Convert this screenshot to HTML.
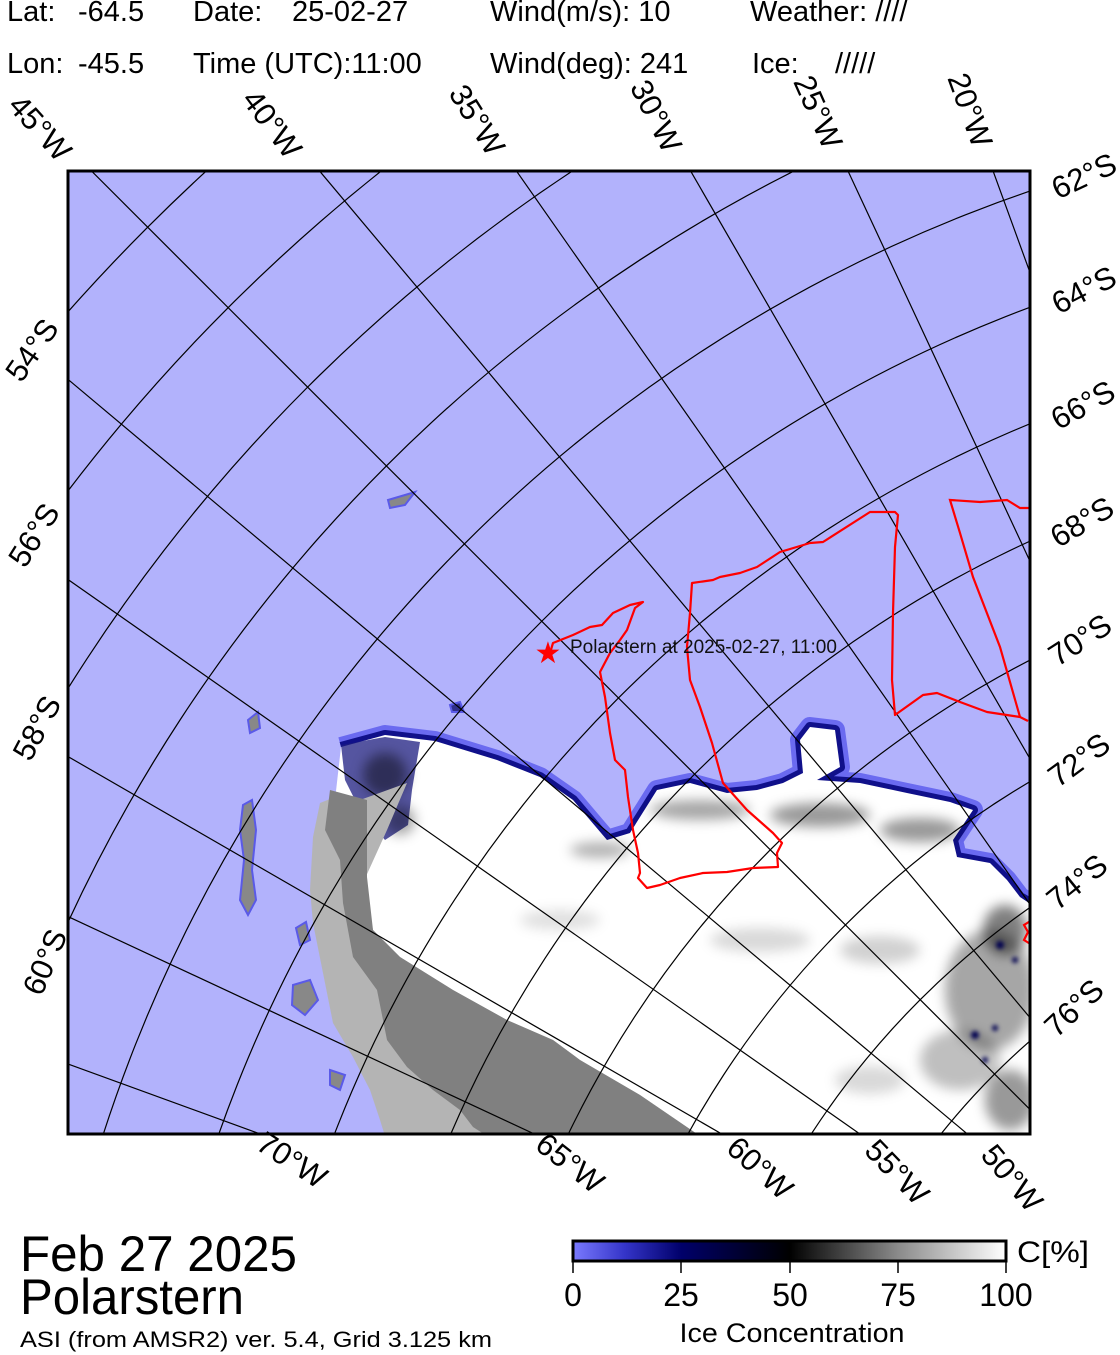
<!DOCTYPE html>
<html><head><meta charset="utf-8"><style>
html,body{margin:0;padding:0;background:#fff;overflow:hidden;width:1120px;height:1355px;}
svg{display:block;}
text{font-family:"Liberation Sans",Arial,sans-serif;fill:#000;}
</style></head><body>
<svg width="1120" height="1355" viewBox="0 0 1120 1355" xmlns="http://www.w3.org/2000/svg">
<defs>
<clipPath id="mc"><rect x="68" y="171" width="962" height="963"/></clipPath>
<filter id="bl" x="-20%" y="-20%" width="140%" height="140%"><feGaussianBlur stdDeviation="6"/></filter>
<filter id="bl2"><feGaussianBlur stdDeviation="2"/></filter>
<linearGradient id="cb" x1="0" x2="1" y1="0" y2="0">
<stop offset="0" stop-color="#7a7aff"/><stop offset="0.12" stop-color="#3434c8"/><stop offset="0.25" stop-color="#00006a"/><stop offset="0.5" stop-color="#000"/><stop offset="0.75" stop-color="#8a8a8a"/><stop offset="1" stop-color="#fff"/>
</linearGradient>
</defs>

<g font-size="29">
<text x="7" y="21">Lat:</text><text x="78" y="21">-64.5</text>
<text x="193" y="21">Date:</text><text x="292" y="21">25-02-27</text>
<text x="490" y="21">Wind(m/s): 10</text>
<text x="750" y="21">Weather: ////</text>
<text x="7" y="73">Lon:</text><text x="78" y="73">-45.5</text>
<text x="193" y="73">Time (UTC):11:00</text>
<text x="490" y="73">Wind(deg): 241</text>
<text x="752" y="73">Ice:</text><text x="835" y="73">/////</text>
</g>

<g clip-path="url(#mc)">
<rect x="68" y="171" width="962" height="963" fill="#b2b2fc"/>
<polyline fill="none" stroke="#6a6af0" stroke-width="20" stroke-linejoin="round" points="341,747 385,735 435,741 497,760 540,777 573,800 607,840 630,833 657,790 690,783 727,793 757,790 783,783 803,773 800,740 810,727 835,730 840,767 817,780 860,783 907,793 950,802 973,810 953,840 957,857 990,863 1007,880 1020,897 1034,905"/>
<polyline fill="none" stroke="#10108a" stroke-width="10" stroke-linejoin="round" points="341,747 385,735 435,741 497,760 540,777 573,800 607,840 630,833 657,790 690,783 727,793 757,790 783,783 803,773 800,740 810,727 835,730 840,767 817,780 860,783 907,793 950,802 973,810 953,840 957,857 990,863 1007,880 1020,897 1034,905"/>
<path d="M341,747 L385,735 L435,741 L497,760 L540,777 L573,800 L607,840 L630,833 L657,790 L690,783 L727,793 L757,790 L783,783 L803,773 L800,740 L810,727 L835,730 L840,767 L817,780 L860,783 L907,793 L950,802 L973,810 L953,840 L957,857 L990,863 L1007,880 L1020,897 L1032,905 L1032,1136 L620,1136 L500,1060 L420,1010 L360,950 L345,880 L335,800 Z" fill="#fff"/>
<!-- mottled dark patch near islands -->
<path d="M341,745 L385,737 L420,742 L412,790 L408,825 L385,840 L360,810 L345,780 Z" fill="#1c1c80" opacity="0.75"/>
<g filter="url(#bl)" fill="#000">
<ellipse cx="700" cy="810" rx="50" ry="10" opacity="0.35"/>
<ellipse cx="820" cy="815" rx="50" ry="12" opacity="0.4"/>
<ellipse cx="920" cy="830" rx="40" ry="12" opacity="0.4"/>
<ellipse cx="600" cy="850" rx="30" ry="8" opacity="0.3"/>
<ellipse cx="990" cy="990" rx="45" ry="60" opacity="0.35"/>
<ellipse cx="1005" cy="930" rx="22" ry="25" opacity="0.5"/>
<ellipse cx="960" cy="1060" rx="40" ry="30" opacity="0.25"/>
<ellipse cx="1010" cy="1100" rx="25" ry="30" opacity="0.4"/>
<ellipse cx="880" cy="950" rx="40" ry="14" opacity="0.18"/>
<ellipse cx="560" cy="920" rx="40" ry="10" opacity="0.12"/>
<ellipse cx="760" cy="940" rx="50" ry="12" opacity="0.15"/>
<ellipse cx="870" cy="1080" rx="35" ry="14" opacity="0.15"/>
<ellipse cx="385" cy="775" rx="22" ry="22" opacity="0.45"/>
<ellipse cx="400" cy="820" rx="15" ry="15" opacity="0.35"/>
</g>
<g fill="#000050" filter="url(#bl2)">
<circle cx="975" cy="1035" r="4"/><circle cx="995" cy="1028" r="3"/><circle cx="1000" cy="945" r="4"/><circle cx="1015" cy="960" r="3"/><circle cx="985" cy="1060" r="3"/>
</g>
<path d="M320,803 L313,837 L310,890 L313,923 L323,973 L333,1023 L353,1057 L370,1090 L380,1120 L385,1136 L700,1136 L640,1095 L580,1060 L553,1040 L507,1020 L453,990 L400,957 L373,930 L363,883 L387,830 L407,783 L360,800 L340,795 Z" fill="#b4b4b4"/>
<path d="M330,790 L367,800 L367,877 L373,930 L400,957 L453,990 L507,1020 L553,1040 L580,1060 L640,1095 L700,1136 L487,1136 L473,1127 L460,1110 L433,1090 L407,1067 L387,1040 L377,990 L353,957 L343,903 L340,860 L325,830 Z" fill="#808080"/>
<g fill="#888" stroke="#5a5ae8" stroke-width="2">
<path d="M243,805 L252,800 L256,830 L252,870 L256,900 L248,915 L240,900 L244,860 L240,830 Z"/>
<path d="M293,985 L310,980 L318,1000 L305,1015 L292,1005 Z"/>
<path d="M248,720 L258,712 L260,728 L250,733 Z"/>
<path d="M388,500 L405,495 L415,492 L405,505 L390,508 Z"/>
<path d="M450,705 L460,702 L464,712 L452,712 Z" fill="#30308a"/>
<path d="M296,928 L306,922 L310,940 L300,945 Z"/>
<path d="M330,1070 L345,1075 L340,1090 L330,1085 Z"/>
</g>
<g fill="none" stroke="#000" stroke-width="1.2">
<circle cx="1509" cy="1588.5" r="2040.1"/>
<circle cx="1509" cy="1588.5" r="1925.2"/>
<circle cx="1509" cy="1588.5" r="1811.4"/>
<circle cx="1509" cy="1588.5" r="1699.0"/>
<circle cx="1509" cy="1588.5" r="1587.6"/>
<circle cx="1509" cy="1588.5" r="1477.3"/>
<circle cx="1509" cy="1588.5" r="1367.9"/>
<circle cx="1509" cy="1588.5" r="1259.4"/>
<circle cx="1509" cy="1588.5" r="1151.7"/>
<circle cx="1509" cy="1588.5" r="1044.7"/>
<circle cx="1509" cy="1588.5" r="938.4"/>
<circle cx="1509" cy="1588.5" r="832.7"/>
<circle cx="1509" cy="1588.5" r="727.5"/>
</g>
<g stroke="#000" stroke-width="1.2" transform="translate(1509,1588.5)">
<line x1="0" y1="0" x2="3000" y2="0" transform="rotate(255)"/>
<line x1="0" y1="0" x2="3000" y2="0" transform="rotate(250)"/>
<line x1="0" y1="0" x2="3000" y2="0" transform="rotate(245)"/>
<line x1="0" y1="0" x2="3000" y2="0" transform="rotate(240)"/>
<line x1="0" y1="0" x2="3000" y2="0" transform="rotate(235)"/>
<line x1="0" y1="0" x2="3000" y2="0" transform="rotate(230)"/>
<line x1="0" y1="0" x2="3000" y2="0" transform="rotate(225)"/>
<line x1="0" y1="0" x2="3000" y2="0" transform="rotate(220)"/>
<line x1="0" y1="0" x2="3000" y2="0" transform="rotate(215)"/>
<line x1="0" y1="0" x2="3000" y2="0" transform="rotate(210)"/>
<line x1="0" y1="0" x2="3000" y2="0" transform="rotate(205)"/>
<line x1="0" y1="0" x2="3000" y2="0" transform="rotate(200)"/>
<line x1="0" y1="0" x2="3000" y2="0" transform="rotate(195)"/>
</g>
<polyline fill="none" stroke="#ff0000" stroke-width="2.2" stroke-linejoin="round" points="550,653 553,643 573,635 590,627 602,625 613,613 630,605 643,602 635,608 627,630 620,640 610,653 600,672 605,697 610,733 615,760 625,770 628,797 633,830 638,853 640,873 638,878 647,888 660,885 680,878 703,873 727,872 753,868 778,867 777,853 782,843 773,833 747,810 723,783 712,743 700,707 690,680 687,647 690,613 692,583 713,580 720,577 740,573 757,567 780,552 810,543 823,542 870,512 895,512 898,515 895,547 893,613 892,680 895,715 923,695 937,693 960,702 987,712 1020,717 1028,721"/>
<polyline fill="none" stroke="#ff0000" stroke-width="2.2" points="1020,717 1000,647 973,577 960,533 950,500 980,502 1007,500 1020,508 1032,508"/>
<polyline fill="none" stroke="#ff0000" stroke-width="2.2" points="1032,920 1024,925 1028,932 1024,940 1032,945"/>
<text x="548" y="663" text-anchor="middle" font-size="30" style="fill:#ff0000">★</text>
<text x="570" y="653" font-size="19" style="fill:#111">Polarstern at 2025-02-27, 11:00</text>
</g>
<rect x="68" y="171" width="962" height="963" fill="none" stroke="#000" stroke-width="3"/>

<g font-size="31" text-anchor="middle" dominant-baseline="central">
<text transform="translate(40,128) rotate(48)">45°W</text>
<text transform="translate(272,124) rotate(53)">40°W</text>
<text transform="translate(477,120) rotate(58)">35°W</text>
<text transform="translate(656,116) rotate(63)">30°W</text>
<text transform="translate(818,112) rotate(66)">25°W</text>
<text transform="translate(970,110) rotate(70)">20°W</text>
<text transform="translate(292,1160) rotate(33)">70°W</text>
<text transform="translate(570,1163) rotate(38)">65°W</text>
<text transform="translate(760,1168) rotate(42)">60°W</text>
<text transform="translate(897,1172) rotate(46)">55°W</text>
<text transform="translate(1012,1178) rotate(50)">50°W</text>
<text transform="translate(1084,176) rotate(-25)">62°S</text>
<text transform="translate(1084,290) rotate(-27)">64°S</text>
<text transform="translate(1083,405) rotate(-29)">66°S</text>
<text transform="translate(1082,522) rotate(-31)">68°S</text>
<text transform="translate(1080,640) rotate(-33)">70°S</text>
<text transform="translate(1079,760) rotate(-36)">72°S</text>
<text transform="translate(1077,882) rotate(-39)">74°S</text>
<text transform="translate(1074,1008) rotate(-43)">76°S</text>
<text transform="translate(32,350) rotate(-55)">54°S</text>
<text transform="translate(34,535) rotate(-58)">56°S</text>
<text transform="translate(37,728) rotate(-62)">58°S</text>
<text transform="translate(45,962) rotate(-67)">60°S</text>
</g>

<text x="20" y="1271" font-size="50" textLength="277" lengthAdjust="spacingAndGlyphs">Feb 27 2025</text>
<text x="20" y="1314" font-size="50" textLength="224" lengthAdjust="spacingAndGlyphs">Polarstern</text>
<text x="20" y="1347" font-size="22" textLength="472" lengthAdjust="spacingAndGlyphs">ASI (from AMSR2) ver. 5.4,  Grid 3.125 km</text>

<rect x="573" y="1241" width="433" height="20" fill="url(#cb)" stroke="#000" stroke-width="3"/>
<g stroke="#000" stroke-width="1.5">
<line x1="573" y1="1261" x2="573" y2="1273"/><line x1="681" y1="1261" x2="681" y2="1273"/><line x1="790" y1="1261" x2="790" y2="1273"/><line x1="898" y1="1261" x2="898" y2="1273"/><line x1="1006" y1="1261" x2="1006" y2="1273"/>
</g>
<g font-size="32" text-anchor="middle">
<text x="573" y="1306">0</text><text x="681" y="1306">25</text><text x="790" y="1306">50</text><text x="898" y="1306">75</text><text x="1006" y="1306">100</text>
</g>
<text x="1017" y="1262" font-size="30" textLength="72" lengthAdjust="spacingAndGlyphs">C[%]</text>
<text x="792" y="1342" font-size="27" text-anchor="middle" textLength="225" lengthAdjust="spacingAndGlyphs">Ice Concentration</text>
</svg>
</body></html>
